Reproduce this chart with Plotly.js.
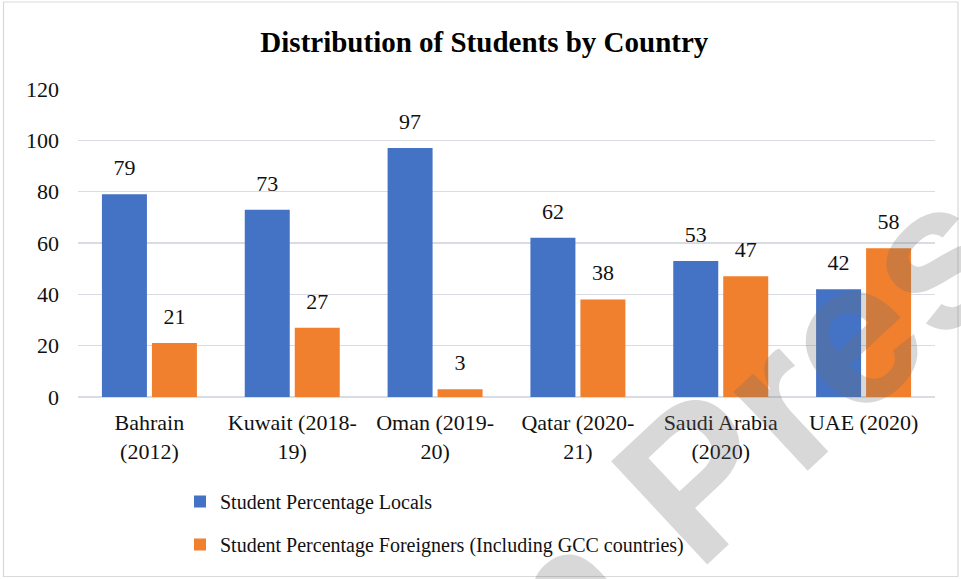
<!DOCTYPE html>
<html>
<head>
<meta charset="utf-8">
<script src="https://cdn.plot.ly/plotly-3.0.1.min.js"></script>
<style>html,body{margin:0;padding:0;background:#fff;}#chart{width:961px;height:579px;}</style>
</head>
<body>
<div id="chart"></div>
<script>
const categories = ["Bahrain<br>(2012)", "Kuwait (2018-<br>19)", "Oman (2019-<br>20)", "Qatar (2020-<br>21)", "Saudi Arabia<br>(2020)", "UAE (2020)"];
const locals = [79, 73, 97, 62, 53, 42];
const foreigners = [21, 27, 3, 38, 47, 58];
const seriesNames = ["Student Percentage Locals", "Student Percentage Foreigners (Including GCC countries)"];
const yTicks = [0, 20, 40, 60, 80, 100, 120];
const chartTitle = "Distribution of Students by Country";
const watermark = "in Press";

const serif = "Liberation Serif, Times New Roman, serif";
const blue = "#4472C4";
const orange = "#F07F2E";

const traces = [
  {type: "bar", x: categories, y: locals, name: seriesNames[0], marker: {color: blue}, legendgroup: "a", hoverinfo: "skip"},
  {type: "bar", x: categories, y: foreigners, name: seriesNames[1], marker: {color: orange}, legendgroup: "b", hoverinfo: "skip"},
  {type: "scatter", mode: "markers+text", x: categories, y: locals, text: locals.map(String), textposition: "top center",
   marker: {size: 20, opacity: 0}, textfont: {family: serif, size: 22, color: "#111"}, showlegend: false, cliponaxis: false, hoverinfo: "skip"},
  {type: "scatter", mode: "markers+text", x: categories, y: foreigners, text: foreigners.map(String), textposition: "top center",
   marker: {size: 20, opacity: 0}, textfont: {family: serif, size: 22, color: "#111"}, showlegend: false, cliponaxis: false, hoverinfo: "skip"}
];

const L = 78, R = 26, T = 89, B = 182, W = 961, H = 579;
const pw = W - L - R, ph = H - T - B;
const px = v => (v - L) / pw;
const py = v => (H - B - v) / ph;

const layout = {
  width: W, height: H,
  margin: {l: L, r: R, t: T, b: B, pad: 0},
  paper_bgcolor: "#fff", plot_bgcolor: "#fff",
  font: {family: serif, color: "#111"},
  title: {text: "<b>" + chartTitle + "</b>", font: {family: serif, size: 29, color: "#000"}, x: 0.504, xref: "container", y: 0.928, yref: "container", yanchor: "middle"},
  barmode: "group", bargap: 0.3, bargroupgap: 0.1,
  scattermode: "group", scattergap: 0.3,
  xaxis: {type: "category", showgrid: false, showline: false, zeroline: false, ticks: "", ticklabelstandoff: 10, tickfont: {family: serif, size: 22, color: "#111"}, tickangle: 0, fixedrange: true},
  yaxis: {range: [0, 120], tickvals: yTicks, ticktext: yTicks.map(String), showgrid: true, gridcolor: "#d9dde3", gridwidth: 1.3, zeroline: true, zerolinecolor: "#d9dde3", zerolinewidth: 1.3, showline: false, ticks: "", ticklabelstandoff: 18, tickfont: {family: serif, size: 22, color: "#111"}, fixedrange: true},
  showlegend: true,
  legend: {orientation: "v", x: px(180), xanchor: "left", y: py(482), yanchor: "top", traceorder: "grouped", tracegroupgap: 14, font: {family: serif, size: 20, color: "#111"}, bgcolor: "rgba(0,0,0,0)"},
  shapes: [
    {type: "rect", xref: "paper", yref: "paper", x0: px(3.5), x1: px(958), y0: py(576.5), y1: py(2), line: {color: "#d9d9d9", width: 1.2}, fillcolor: "rgba(0,0,0,0)", layer: "below"}
  ],
  annotations: [
    {text: "<b>" + watermark + "</b>", xref: "paper", yref: "paper", x: px(765), y: py(412), xanchor: "center", yanchor: "middle", showarrow: false, textangle: -43,
     font: {family: "Liberation Sans, Arial, sans-serif", size: 205, color: "rgba(110,110,110,0.27)"}}
  ]
};

Plotly.newPlot("chart", traces, layout, {displayModeBar: false, staticPlot: true});
</script>
</body>
</html>
